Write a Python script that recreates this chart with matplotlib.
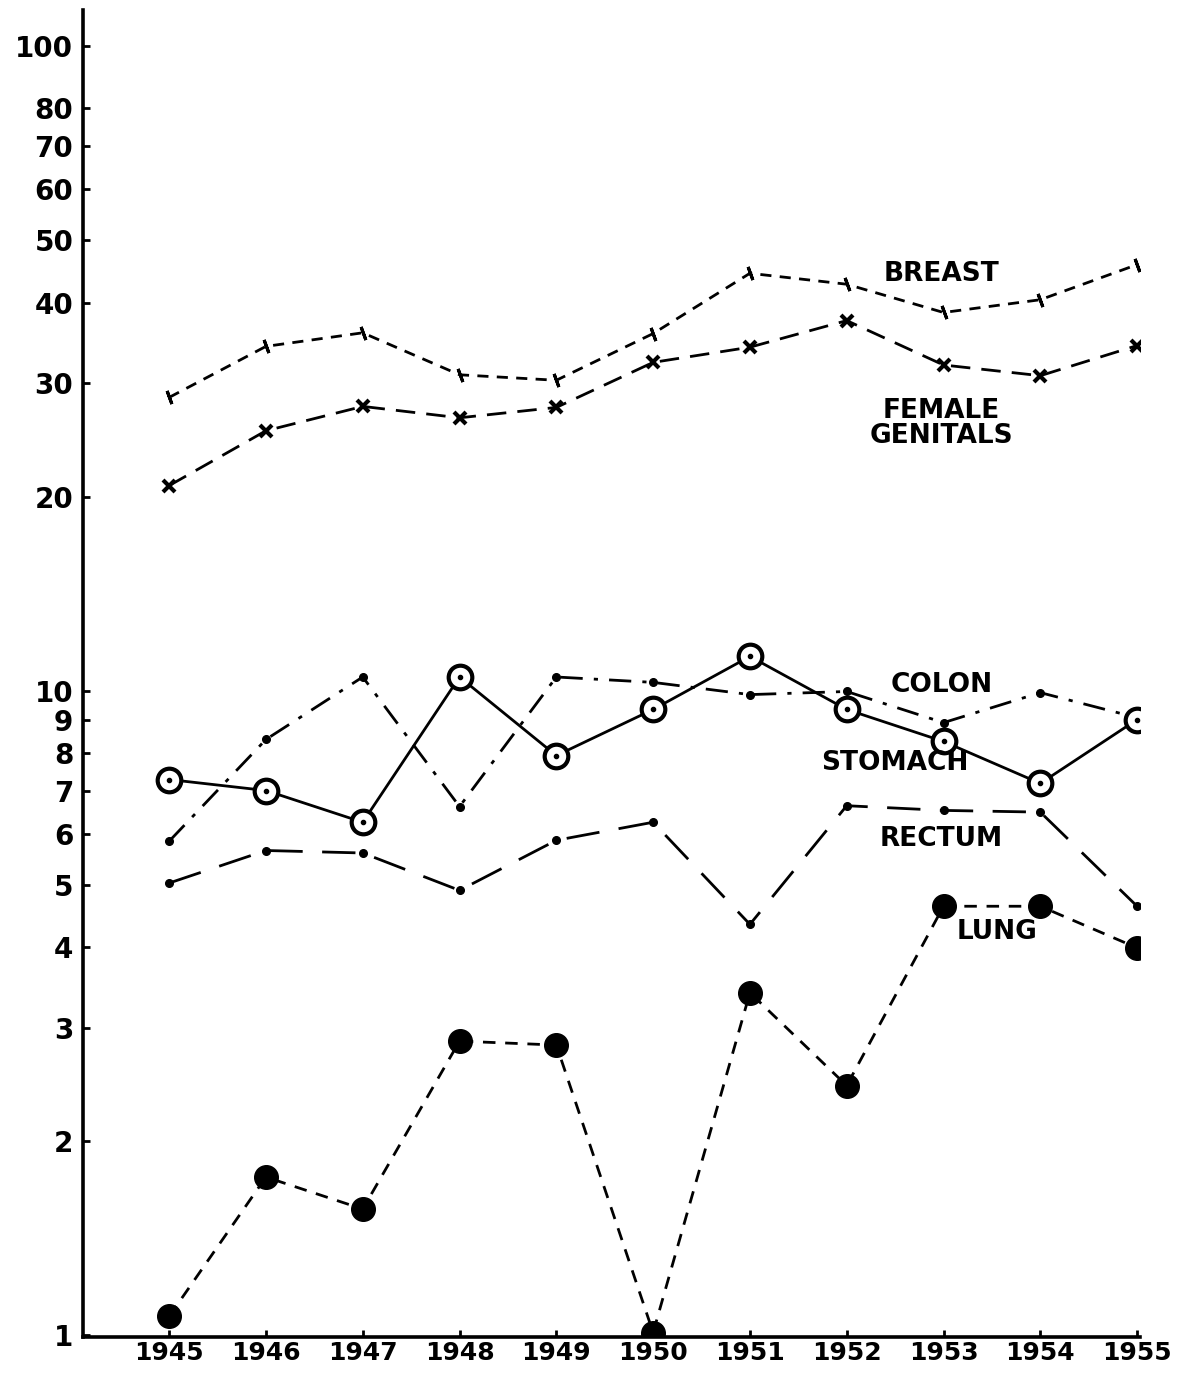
import numpy as np
import matplotlib
matplotlib.use('Agg')
import matplotlib.pyplot as plt
from matplotlib.ticker import FixedLocator, FixedFormatter, NullLocator

# values (log scale)
years = [1945, 1946, 1947, 1948, 1949, 1950, 1951, 1952, 1953, 1954, 1955]

breast = [28.5, 34.2, 35.9, 30.9, 30.3, 35.8, 44.4, 42.7, 38.6, 40.4, 45.8]
female_genitals = [20.8, 25.3, 27.6, 26.5, 27.5, 32.3, 34.1, 37.5, 32.0, 30.8, 34.3]
stomach = [7.28, 7.0, 6.25, 10.5, 7.93, 9.35, 11.3, 9.35, 8.34, 7.18, 9.02]
colon = [5.84, 8.40, 10.5, 6.61, 10.5, 10.3, 9.86, 9.97, 8.92, 9.93, 9.08]
rectum = [5.03, 5.65, 5.60, 4.90, 5.86, 6.25, 4.34, 6.63, 6.52, 6.48, 4.63]
lung = [1.07, 1.76, 1.57, 2.86, 2.82, 1.01, 3.40, 2.44, 4.63, 4.63, 3.99]

ytick_vals = [1, 2, 3, 4, 5, 6, 7, 8, 9, 10, 20, 30, 40, 50, 60, 70, 80, 100]
ytick_labels = ['1', '2', '3', '4', '5', '6', '7', '8', '9', '10',
                '20', '30', '40', '50', '60', '70', '80', '100']

fig = plt.figure(figsize=(11.89, 13.73), dpi=100)
ax = fig.add_axes([0.0698, 0.026, 0.889, 0.9667])
ax.set_yscale('log')

lw = 2.0
k = 'black'

# breast: short dashes, slash marks
ax.plot(years, breast, color=k, lw=lw, ls=(0, (4, 3)),
        marker=(2, 2, 20), ms=10, mew=2.2)
# female genitals: longer dashes, crosses
ax.plot(years, female_genitals, color=k, lw=lw, ls=(0, (7, 4)),
        marker='x', ms=9, mew=3)
# colon: dash-dot, small dots
ax.plot(years, colon, color=k, lw=lw, ls=(0, (8, 4, 1.5, 4)),
        marker='o', ms=5.5)
# rectum: long dashes, small dots
ax.plot(years, rectum, color=k, lw=lw, ls=(0, (12, 7)),
        marker='o', ms=5.5)
# stomach: solid, open circles with centre dot
ax.plot(years, stomach, color=k, lw=lw, ls='-',
        marker='o', ms=17, mfc='white', mew=3)
ax.plot(years, stomach, color=k, ls='none', marker='o', ms=3)
# lung: dashes, filled circles
ax.plot(years, lung, color=k, lw=lw, ls=(0, (4.5, 3.5)),
        marker='o', ms=17)

lab = dict(fontsize=19, color=k, ha='center', va='center', fontweight='bold')
ax.text(1952.98, 44.3, 'BREAST', **lab)
ax.text(1952.98, 26.0, 'FEMALE\nGENITALS', linespacing=0.95, **lab)
ax.text(1952.98, 10.2, 'COLON', **lab)
ax.text(1952.5, 7.72, 'STOMACH', **lab)
ax.text(1952.98, 5.88, 'RECTUM', **lab)
ax.text(1953.55, 4.22, 'LUNG', **lab)

ax.set_xlim(1944.11, 1955.03)
ax.set_ylim(0.993, 113.7)

ax.yaxis.set_major_locator(FixedLocator(ytick_vals))
ax.yaxis.set_major_formatter(FixedFormatter(ytick_labels))
ax.yaxis.set_minor_locator(NullLocator())
ax.set_xticks(years)
ax.set_xticklabels([str(y) for y in years])

for s in ['top', 'right']:
    ax.spines[s].set_visible(False)
for s in ['left', 'bottom']:
    ax.spines[s].set_linewidth(2.6)

ax.tick_params(axis='both', direction='in', length=5, width=2)
ax.tick_params(axis='y', labelsize=20, pad=7)
ax.tick_params(axis='x', labelsize=18, pad=3)
for t in ax.get_xticklabels() + ax.get_yticklabels():
    t.set_fontweight('bold')

fig.savefig('out.png', dpi=100, facecolor='white')
